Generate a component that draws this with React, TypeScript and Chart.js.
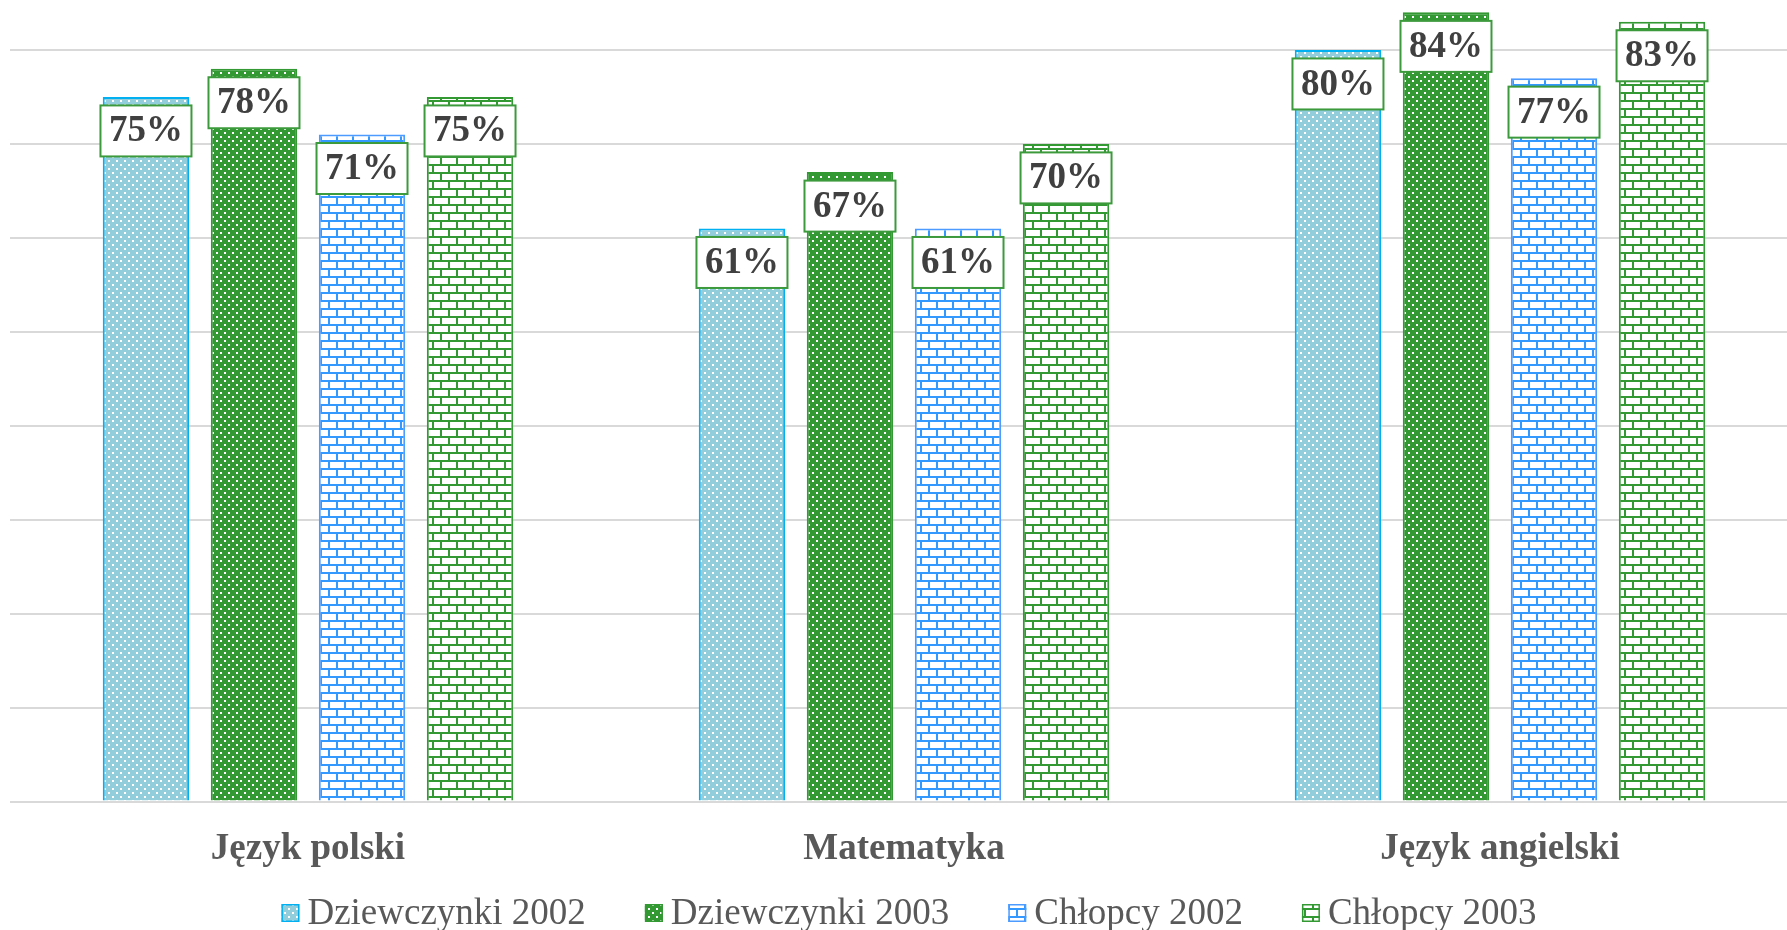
import React, { useEffect, useRef } from "react";
import { Chart, registerables } from "chart.js";

Chart.register(...registerables);

const categories = ["Język polski", "Matematyka", "Język angielski"];
const seriesLabels = ["Dziewczynki 2002", "Dziewczynki 2003", "Chłopcy 2002", "Chłopcy 2003"];
const dziewczynki2002 = [75, 61, 80];
const dziewczynki2003 = [78, 67, 84];
const chlopcy2002 = [71, 61, 77];
const chlopcy2003 = [75, 70, 83];
const yMin = 0;
const yMax = 90;
const yStep = 10;

const FONT = '"Liberation Serif", "Times New Roman", serif';

function dotPattern(bg: string, dot: string): CanvasPattern {
  const c = document.createElement("canvas");
  c.width = 8;
  c.height = 8;
  const g = c.getContext("2d")!;
  g.fillStyle = bg;
  g.fillRect(0, 0, 8, 8);
  g.fillStyle = dot;
  g.fillRect(0, 0, 2, 2);
  g.fillRect(4, 4, 2, 2);
  return g.createPattern(c, "repeat")!;
}

function brickPattern(line: string, bg: string): CanvasPattern {
  const c = document.createElement("canvas");
  c.width = 16;
  c.height = 16;
  const g = c.getContext("2d")!;
  g.fillStyle = bg;
  g.fillRect(0, 0, 16, 16);
  g.fillStyle = line;
  g.fillRect(0, 0, 16, 2);
  g.fillRect(0, 8, 16, 2);
  g.fillRect(0, 0, 2, 8);
  g.fillRect(8, 8, 2, 8);
  return g.createPattern(c, "repeat")!;
}

const dataLabelPlugin = {
  id: "boxLabels",
  afterDatasetsDraw(chart: any) {
    const ctx = chart.ctx;
    chart.data.datasets.forEach((ds: any, i: number) => {
      const meta = chart.getDatasetMeta(i);
      meta.data.forEach((bar: any, j: number) => {
        const v = ds.data[j];
        const cx = bar.x;
        const cy = bar.y + 34;
        const w = 91;
        const h = 51;
        ctx.save();
        ctx.fillStyle = "#ffffff";
        ctx.fillRect(cx - w / 2, cy - h / 2, w, h);
        ctx.strokeStyle = "#3c9a3c";
        ctx.lineWidth = 2;
        ctx.strokeRect(cx - w / 2, cy - h / 2, w, h);
        ctx.font = `bold 37px ${FONT}`;
        ctx.textAlign = "center";
        ctx.textBaseline = "middle";
        ctx.fillStyle = "#404040";
        ctx.fillText(`${v}%`, cx, cy + 1);
        ctx.restore();
      });
    });
  },
};

const legendPlugin = {
  id: "customLegend",
  afterDraw(chart: any) {
    const ctx = chart.ctx;
    const datasets = chart.data.datasets;
    const box = 18;
    const gap = 8;
    const spacing = 59;
    const centerX = 909;
    const centerY = 957;
    ctx.save();
    ctx.font = `37px ${FONT}`;
    const widths = datasets.map((d: any) => ctx.measureText(d.label).width);
    let total = 0;
    widths.forEach((w: number, i: number) => {
      total += box + gap + w + (i < widths.length - 1 ? spacing : 0);
    });
    let x = centerX - total / 2;
    datasets.forEach((d: any, i: number) => {
      ctx.fillStyle = d.backgroundColor;
      ctx.fillRect(x, centerY - box / 2, box, box);
      ctx.strokeStyle = d.borderColor;
      ctx.lineWidth = 1.5;
      ctx.strokeRect(x + 0.75, centerY - box / 2 + 0.75, box - 1.5, box - 1.5);
      ctx.fillStyle = "#595959";
      ctx.textAlign = "left";
      ctx.textBaseline = "middle";
      ctx.fillText(d.label, x + box + gap, centerY + 1);
      x += box + gap + widths[i] + spacing;
    });
    ctx.restore();
  },
};

export default function App() {
  const ref = useRef<HTMLCanvasElement | null>(null);

  useEffect(() => {
    const canvas = ref.current;
    if (!canvas) return;
    const datasets = [
      {
        label: seriesLabels[0],
        data: dziewczynki2002,
        backgroundColor: dotPattern("#92cddc", "#ffffff"),
        borderColor: "#00b0f0",
        borderWidth: 2,
      },
      {
        label: seriesLabels[1],
        data: dziewczynki2003,
        backgroundColor: dotPattern("#339933", "#ffffff"),
        borderColor: "#339933",
        borderWidth: 2,
      },
      {
        label: seriesLabels[2],
        data: chlopcy2002,
        backgroundColor: brickPattern("#3399ff", "#ffffff"),
        borderColor: "#4d9bff",
        borderWidth: 2,
      },
      {
        label: seriesLabels[3],
        data: chlopcy2003,
        backgroundColor: brickPattern("#339933", "#ffffff"),
        borderColor: "#339933",
        borderWidth: 2,
      },
    ];
    const chart = new Chart(canvas, {
      type: "bar",
      data: { labels: categories, datasets: datasets as any },
      options: {
        responsive: false,
        animation: false,
        devicePixelRatio: 1,
        layout: { padding: { left: 10, right: 2, top: 0, bottom: 33 } },
        datasets: { bar: { categoryPercentage: 0.725, barPercentage: 0.8 } } as any,
        plugins: {
          legend: { display: false },
          tooltip: { enabled: false },
        },
        scales: {
          x: {
            grid: { display: false, drawTicks: false },
            border: { display: false },
            ticks: {
              font: { family: FONT, size: 37, weight: "bold" },
              color: "#595959",
              padding: 25.5,
              maxRotation: 0,
            },
          },
          y: {
            min: yMin,
            max: yMax,
            ticks: { display: false, stepSize: yStep },
            grid: { color: "#d9d9d9", lineWidth: 2, drawTicks: false },
            border: { display: false },
          },
        },
      },
      plugins: [dataLabelPlugin, legendPlugin],
    });
    return () => chart.destroy();
  }, []);

  return (
    <div
      style={{
        position: "fixed",
        left: 0,
        top: 0,
        width: 1787,
        height: 930,
        overflow: "hidden",
        background: "#ffffff",
      }}
    >
      <canvas
        ref={ref}
        width={1800}
        height={974}
        style={{ position: "absolute", left: 0, top: -44, width: 1800, height: 974 }}
      />
    </div>
  );
}
